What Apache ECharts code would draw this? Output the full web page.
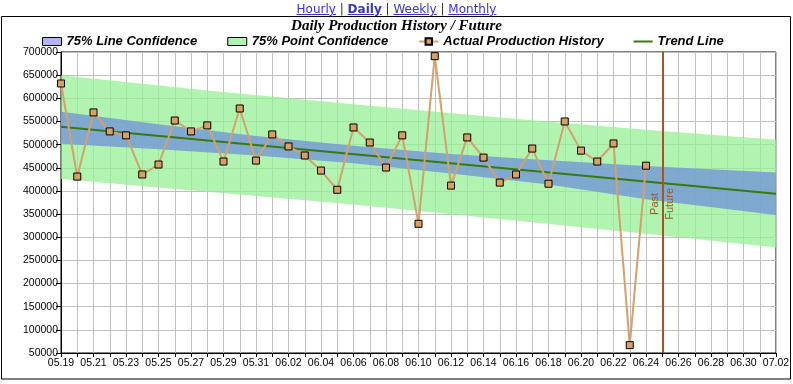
<!DOCTYPE html>
<html>
<head>
<meta charset="utf-8">
<script src="https://cdn.jsdelivr.net/npm/echarts@6/dist/echarts.min.js"></script>
<style>
  html, body { margin: 0; padding: 0; background: #fff; }
  #wrap { position: relative; width: 793px; height: 384px; }
  #chart { position: absolute; left: 0; top: 0; width: 793px; height: 384px; }
  #links { position: absolute; left: 0; top: 1px; width: 793px; text-align: center;
           font-family: "DejaVu Sans", sans-serif; font-size: 12px; line-height: 16px; color: #333; z-index: 2; }
  #links a { color: #3535cc; text-decoration: underline; }
  #links a.cur { font-weight: bold; }
</style>
</head>
<body>
<div id="wrap">
  <div id="chart"></div>
  <div id="links"><a href="#">Hourly</a> | <a class="cur" href="#">Daily</a> | <a href="#">Weekly</a> | <a href="#">Monthly</a></div>
</div>
<script>
// ---- data ----
const dates = ['05.19','05.20','05.21','05.22','05.23','05.24','05.25','05.26','05.27','05.28','05.29','05.30','05.31',
  '06.01','06.02','06.03','06.04','06.05','06.06','06.07','06.08','06.09','06.10','06.11','06.12','06.13','06.14','06.15',
  '06.16','06.17','06.18','06.19','06.20','06.21','06.22','06.23','06.24','06.25','06.26','06.27','06.28','06.29','06.30',
  '07.01','07.02'];
const actual = [632000, 431000, 569500, 528500, 520000, 435500, 457000, 552000, 528500, 541500, 463500, 578000, 465500,
  522000, 496000, 476500, 444000, 402500, 537000, 504500, 450500, 520000, 329000, 691000, 411500, 515500, 472000, 418000,
  435500, 491500, 415500, 550000, 487000, 463500, 502500, 67000, 454500];
const trendDays = [0, 44];
const trendValues = [538500, 394000];
const lineBandDays = [0, 6, 12, 18, 24, 30, 36, 44];
const lineUpper = [571000, 544000, 518500, 497500, 480000, 466500, 454000, 439600];
const lineLower = [502000, 490000, 476500, 460000, 437500, 414000, 382000, 348000];
const pointBandDays = [0, 9, 18, 27, 36, 44];
const pointUpper = [649800, 617000, 587000, 558500, 532000, 510400];
const pointLower = [426000, 398000, 370500, 339500, 307500, 278000];
const splitDay = 37;
const yTicks = { min: 50000, max: 700000, step: 50000 };

const chart = echarts.init(document.getElementById('chart'), null, { renderer: 'canvas' });
const axisFont = { fontFamily: 'Liberation Sans', fontSize: 10.5, color: '#000' };

function bandSeries(name, days, upper, lower, fill) {
  return {
    name: name, type: 'custom', clip: true, silent: true,
    itemStyle: { color: fill },
    data: days.map((d, i) => [d, upper[i], lower[i]]),
    encode: { x: 0, y: [1, 2] },
    renderItem: function (params, api) {
      if (params.dataIndex !== 0) return null;
      const pts = [];
      for (let i = 0; i < days.length; i++) pts.push(api.coord([days[i], upper[i]]));
      for (let i = days.length - 1; i >= 0; i--) pts.push(api.coord([days[i], lower[i]]));
      return { type: 'polygon', shape: { points: pts }, style: { fill: fill } };
    }
  };
}

const option = {
  animation: false,
  title: {
    text: 'Daily Production History / Future',
    left: 'center', top: 19, padding: 0,
    textStyle: { fontFamily: 'Liberation Serif', fontStyle: 'italic', fontWeight: 'bold', fontSize: 15, color: '#000' }
  },
  legend: {
    left: 42, top: 35, padding: 0, itemGap: 30, itemWidth: 19, itemHeight: 8,
    textStyle: { fontFamily: 'Liberation Sans', fontStyle: 'italic', fontWeight: 'bold', fontSize: 13, color: '#000' },
    data: [
      { name: '75% Line Confidence', icon: 'rect', itemStyle: { color: '#b4b4f4', borderColor: '#000', borderWidth: 1 } },
      { name: '75% Point Confidence', icon: 'rect', itemStyle: { color: '#b0f2b0', borderColor: '#000', borderWidth: 1 } },
      { name: 'Actual Production History' },
      { name: 'Trend Line', icon: 'path://M0,0 L19,0 L19,2 L0,2 Z', itemStyle: { color: '#3a7a0c', borderWidth: 0 } }
    ]
  },
  grid: { left: 61, right: 17, top: 52, bottom: 31, show: true, borderColor: '#000', borderWidth: 1 },
  xAxis: {
    type: 'value', min: 0, max: dates.length - 1, interval: 1,
    axisLine: { lineStyle: { color: '#000' } },
    axisTick: { length: 4, lineStyle: { color: '#000' } },
    axisLabel: Object.assign({ margin: 5, formatter: v => (v % 2 === 0 ? dates[v] : '') }, axisFont),
    splitLine: { show: true, lineStyle: { color: '#c0c0c0', width: 1 } }
  },
  yAxis: {
    type: 'value', min: yTicks.min, max: yTicks.max, interval: yTicks.step,
    axisLine: { show: true, lineStyle: { color: '#000' } },
    axisTick: { show: true, length: 5, lineStyle: { color: '#000' } },
    axisLabel: Object.assign({ margin: 3, formatter: v => String(v) }, axisFont),
    splitLine: { show: true, lineStyle: { color: '#c0c0c0', width: 1 } }
  },
  series: [
    bandSeries('75% Point Confidence', pointBandDays, pointUpper, pointLower, 'rgba(150,240,150,0.75)'),
    bandSeries('75% Line Confidence', lineBandDays, lineUpper, lineLower, 'rgba(115,150,215,0.8)'),
    { name: 'Trend Line', type: 'line', symbol: 'none',
      lineStyle: { color: '#3a7a0c', width: 2 }, itemStyle: { color: '#3a7a0c' },
      data: trendDays.map((d, i) => [d, trendValues[i]]) },
    { name: 'Actual Production History', type: 'line', symbol: 'rect', symbolSize: 7,
      lineStyle: { color: '#d4a06c', width: 2 },
      itemStyle: { color: '#d9a066', borderColor: '#000', borderWidth: 1 },
      data: actual.map((v, i) => [i, v]),
      markLine: {
        silent: true, symbol: 'none', label: { show: false },
        lineStyle: { color: '#a5561e', width: 2, type: 'solid' },
        data: [{ xAxis: splitDay }]
      }
    }
  ]
};
chart.setOption(option);

const px = chart.convertToPixel({ gridIndex: 0 }, [splitDay, 372000]);
const textStyle = { fontFamily: 'Liberation Sans', fontSize: 11, fill: '#a5561e', align: 'center', verticalAlign: 'middle' };
chart.setOption({
  graphic: [
    { type: 'rect', silent: true, z: 100, shape: { x: 1.5, y: 16.5, width: 789, height: 362.5 },
      style: { fill: 'none', stroke: '#000', lineWidth: 1 } },
    { type: 'text', silent: true, z: 100, x: px[0] - 7.5, y: px[1], rotation: Math.PI / 2,
      style: Object.assign({ text: 'Past' }, textStyle) },
    { type: 'text', silent: true, z: 100, x: px[0] + 7.5, y: px[1], rotation: Math.PI / 2,
      style: Object.assign({ text: 'Future' }, textStyle) }
  ]
});
</script>
</body>
</html>
